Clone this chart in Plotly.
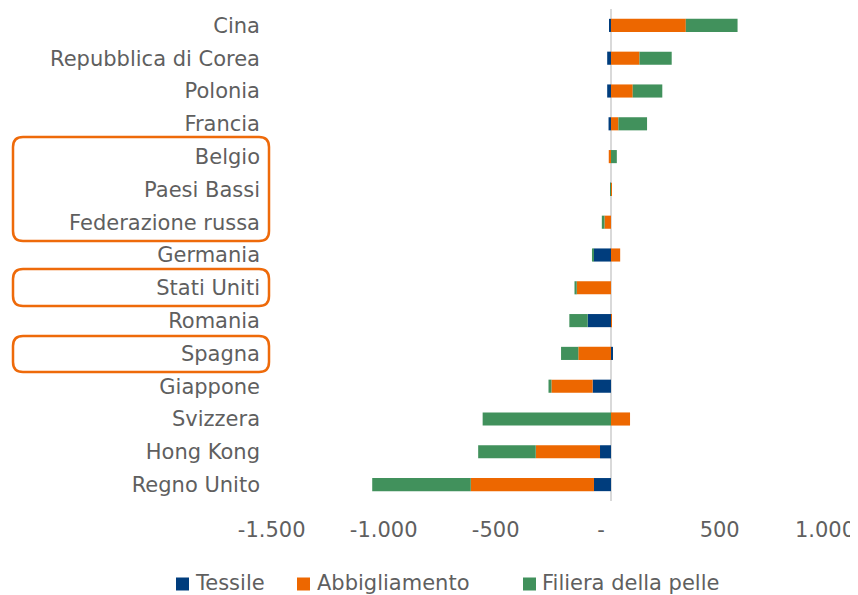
import plotly.graph_objects as go

categories = ["Cina", "Repubblica di Corea", "Polonia", "Francia", "Belgio", "Paesi Bassi",
              "Federazione russa", "Germania", "Stati Uniti", "Romania", "Spagna",
              "Giappone", "Svizzera", "Hong Kong", "Regno Unito"]
tessile = [-9, -17, -17, -11, 0, -1, 0, -77, 0, -104, 9, -82, 0, -49, -76]
abbigliamento = [334, 127, 97, 33, -10, 3, -29, 41, -153, 4, -146, -184, 85, -287, -550]
pelle = [231, 144, 132, 128, 26, -2, -12, -8, -10, -82, -77, -13, -573, -257, -440]

series_names = ["Tessile", "Abbigliamento", "Filiera della pelle"]
colors = ["#003D7D", "#ED6700", "#41915C"]
tick_vals = [-1500, -1000, -500, 0, 500, 1000]
tick_text = ["-1.500\u00a0", "-1.000\u00a0", "-500\u00a0", "-\u00a0\u00a0\u00a0",
             "500\u00a0", "1.000\u00a0\u00a0\u00a0"]

# the page body adds an 8px margin: work in screen pixels and shift
OFF = 8
W, H = 858 - OFF, 595 - OFF
PL, PR, PT, PB = 275, 835, 9, 501   # plot area in screen pixels
L, R, T, B = PL - OFF, W - (PR - OFF), PT - OFF, H - (PB - OFF)
pw, ph = W - L - R, H - T - B
FONT = "DejaVu Sans"
GREY = "#5F5F5F"

def px_x(x):
    return (x - OFF - L) / pw

def px_y(y):
    return 1 - (y - OFF - T) / ph

fig = go.Figure()
for name, vals, col in zip(series_names, [tessile, abbigliamento, pelle], colors):
    fig.add_trace(go.Bar(y=categories, x=vals, name=name, orientation="h",
                         marker=dict(color=col, line=dict(width=0)), showlegend=False))

shapes = []
def rrect(x0, y0, x1, y1, r=10):
    X = lambda v: px_x(v)
    Y = lambda v: px_y(v)
    p = (f"M{X(x0+r)},{Y(y0)} L{X(x1-r)},{Y(y0)} Q{X(x1)},{Y(y0)} {X(x1)},{Y(y0+r)} "
         f"L{X(x1)},{Y(y1-r)} Q{X(x1)},{Y(y1)} {X(x1-r)},{Y(y1)} "
         f"L{X(x0+r)},{Y(y1)} Q{X(x0)},{Y(y1)} {X(x0)},{Y(y1-r)} "
         f"L{X(x0)},{Y(y0+r)} Q{X(x0)},{Y(y0)} {X(x0+r)},{Y(y0)} Z")
    return dict(type="path", path=p, xref="paper", yref="paper",
                line=dict(color="#EE6A0A", width=2.5), layer="above")

shapes.append(rrect(13, 137, 269, 241))
shapes.append(rrect(13, 269, 269, 306))
shapes.append(rrect(13, 336, 269, 372))

# custom legend
annotations = []
leg_sq = [176, 297, 523]
leg_tx = [193, 315, 540]
for sq, tx, name, col in zip(leg_sq, leg_tx, series_names, colors):
    shapes.append(dict(type="rect", xref="paper", yref="paper",
                       x0=px_x(sq), x1=px_x(sq + 13), y0=px_y(577.5), y1=px_y(590.5),
                       fillcolor=col, line=dict(width=0)))
    annotations.append(dict(x=px_x(tx), y=px_y(583), xref="paper", yref="paper",
                            text=name, showarrow=False, xanchor="left", yanchor="middle",
                            font=dict(family=FONT, size=21, color=GREY)))

fig.update_layout(
    width=W, height=H, barmode="relative", bargap=0.6,
    margin=dict(l=L, r=R, t=T, b=B),
    plot_bgcolor="white", paper_bgcolor="white",
    font=dict(family=FONT, size=21, color=GREY),
    shapes=shapes, annotations=annotations,
    xaxis=dict(range=[-1500, 1000], tickvals=tick_vals, ticktext=tick_text,
               showgrid=False, zeroline=True, zerolinecolor="#D9D9D9", zerolinewidth=2,
               showline=False, ticks="", ticklabelstandoff=14, layer="above traces",
               ticklabeloverflow="allow",
               automargin=False, tickfont=dict(family=FONT, size=21, color=GREY)),
    yaxis=dict(autorange="reversed", showgrid=False, showline=False, ticks="",
               automargin=False,
               ticklabelstandoff=14, tickfont=dict(family=FONT, size=21, color=GREY)),
)

fig.write_html("out.html")
